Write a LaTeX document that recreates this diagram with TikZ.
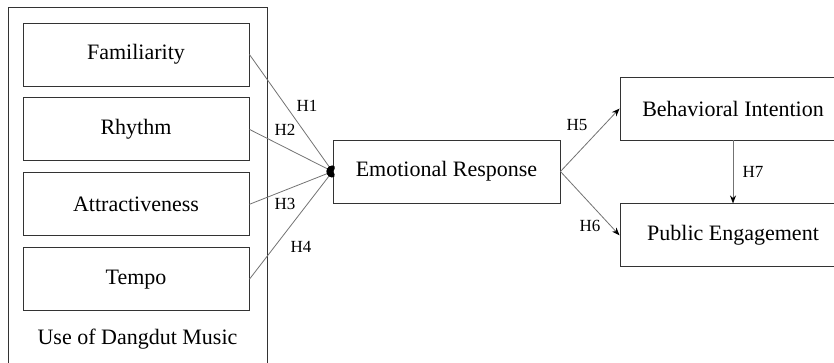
\documentclass[tikz,border=0pt]{standalone}
\usepackage{fontspec}
\setmainfont{Liberation Serif}
\usetikzlibrary{arrows.meta,positioning}
\tikzset{
  cblk/.style={draw=black!80,rectangle,line width=0.9pt,minimum width=226pt,minimum height=63pt,inner sep=0pt,align=center,font=\fontsize{22}{26}\selectfont},
  grpblk/.style={draw=black!80,rectangle,line width=0.9pt,minimum width=259pt,minimum height=365pt,inner sep=0pt},
  dotarr/.style={draw=black!55,line width=0.8pt,-{Circle[length=6pt,width=9pt,color=black]}},
  arr/.style={draw=black!55,line width=0.8pt,-{Stealth[length=8pt,width=6pt,color=black]}},
  hlbl/.style={font=\fontsize{17}{20}\selectfont,inner sep=1pt}
}
\begin{document}
\begin{tikzpicture}[x=1pt,y=1pt]
  \useasboundingbox (0,0) rectangle (834,363);
  \clip (0,0) rectangle (834,363);
  % construct group
  \node[grpblk] (grp) at (137.5,173.5) {};
  \node[cblk] (fam) at (136,308.5) {Familiarity};
  \node[cblk, below=11pt of fam] (rhy) {Rhythm};
  \node[cblk, below=11pt of rhy] (att) {Attractiveness};
  \node[cblk, below=11pt of att] (tem) {Tempo};
  \node[font=\fontsize{22}{26}\selectfont] (grplbl) at (137.5,24) {Use of Dangdut Music};

  % mediator and outcomes
  \node[cblk, minimum width=227pt] (emo) at (446.5,191.5) {Emotional Response};
  \node[cblk] (beh) at (733,254.5) {Behavioral Intention};
  \node[cblk, below=63pt of beh] (pub) {Public Engagement};

  % paths
  \draw[dotarr] (fam.east) -- (emo.west);
  \draw[dotarr] (rhy.east) -- (emo.west);
  \draw[dotarr] (att.east) -- (emo.west);
  \draw[dotarr] (tem.east) -- (emo.west);
  \draw[arr] (emo.east) -- (beh.west);
  \draw[arr] (emo.east) -- (pub.west);
  \draw[arr] (beh.south) -- (pub.north);

  \node[hlbl] (h1) at (307,257) {H1};
  \node[hlbl] (h2) at (285,233) {H2};
  \node[hlbl] (h3) at (285,159) {H3};
  \node[hlbl] (h4) at (301,116) {H4};
  \node[hlbl] (h5) at (577,238) {H5};
  \node[hlbl] (h6) at (590,137) {H6};
  \node[hlbl] (h7) at (753,191) {H7};
\end{tikzpicture}
\end{document}
